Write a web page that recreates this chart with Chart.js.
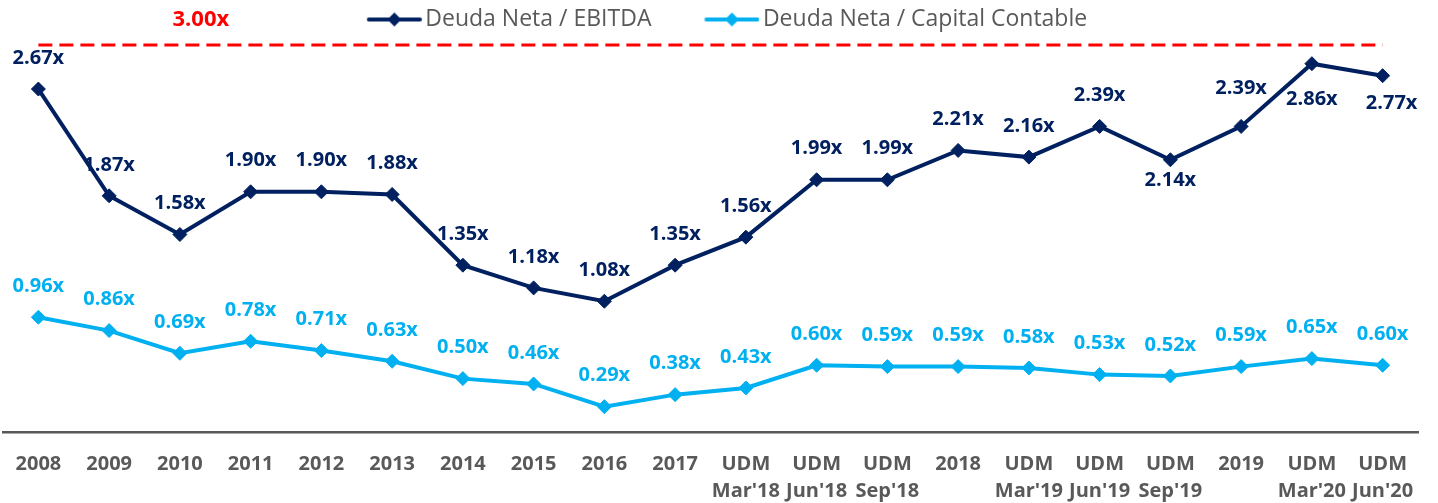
<!DOCTYPE html>
<html>
<head>
<meta charset="utf-8">
<script src="https://cdn.jsdelivr.net/npm/chart.js@4"></script>
<style>
  html, body { margin: 0; padding: 0; background: #fff; }
  #wrap { width: 1438px; height: 503px; }
</style>
</head>
<body>
<div id="wrap"><canvas id="deudaChart"></canvas></div>
<script>
// categories and values
const periods = ["2008", "2009", "2010", "2011", "2012", "2013", "2014", "2015", "2016", "2017",
    ["UDM", "Mar'18"], ["UDM", "Jun'18"], ["UDM", "Sep'18"], "2018",
    ["UDM", "Mar'19"], ["UDM", "Jun'19"], ["UDM", "Sep'19"], "2019",
    ["UDM", "Mar'20"], ["UDM", "Jun'20"]];
const deudaEbitda = [2.67, 1.87, 1.58, 1.90, 1.90, 1.88, 1.35, 1.18, 1.08, 1.35, 1.56, 1.99, 1.99, 2.21, 2.16, 2.39, 2.14, 2.39, 2.86, 2.77];
const deudaCapital = [0.96, 0.86, 0.69, 0.78, 0.71, 0.63, 0.50, 0.46, 0.29, 0.38, 0.43, 0.60, 0.59, 0.59, 0.58, 0.53, 0.52, 0.59, 0.65, 0.60];
const covenantLimit = periods.map(() => 3.00);

const NAVY = '#002060';
const CYAN = '#00B0F0';
const RED = '#FF0000';
const GREY = '#595959';

const BOX_W = 92; // legend box width

// line + diamond marker for the legend (drawn a bit wider than the box)
function legendMarker(color) {
    const c = document.createElement('canvas');
    c.width = BOX_W + 16; c.height = 16;
    const ctx = c.getContext('2d');
    const x1 = c.width - 53, x2 = c.width - 2, mid = (x1 + x2) / 2;
    ctx.strokeStyle = color;
    ctx.lineWidth = 4;
    ctx.lineCap = 'round';
    ctx.beginPath();
    ctx.moveTo(x1, 8);
    ctx.lineTo(x2, 8);
    ctx.stroke();
    ctx.fillStyle = color;
    ctx.beginPath();
    ctx.moveTo(mid, 1); ctx.lineTo(mid + 7, 8); ctx.lineTo(mid, 15); ctx.lineTo(mid - 7, 8);
    ctx.closePath();
    ctx.fill();
    return c;
}
const markers = [legendMarker(NAVY), legendMarker(CYAN)];

// where each value label sits relative to its point
function labelShift(ds, i) {
    if (ds === 0) {
        if (i === 16) return [0, 21];
        if (i === 17) return [0, -38];
        if (i === 18) return [0, 36];
        if (i === 19) return [9, 28];
        return [0, -31];
    }
    if (ds === 1) return [0, -31];
    return [21, -25];
}

const valueLabels = {
    id: 'valueLabels',
    afterDatasetsDraw(chart) {
        const ctx = chart.ctx;
        ctx.save();
        ctx.textAlign = 'center';
        ctx.textBaseline = 'middle';
        chart.data.datasets.forEach((ds, d) => {
            const meta = chart.getDatasetMeta(d);
            meta.data.forEach((pt, i) => {
                if (d === 2 && i !== 2) return;
                const s = labelShift(d, i);
                ctx.font = d === 2 ? 'bold 22px "Open Sans"' : 'bold 20px "Open Sans"';
                ctx.fillStyle = d === 2 ? RED : (d === 0 ? NAVY : CYAN);
                ctx.fillText(ds.data[i].toFixed(2) + 'x', pt.x + s[0], pt.y + s[1]);
            });
        });
        ctx.restore();
    }
};

// fixed legend height, legend nudged a little to the left
const legendTweak = {
    id: 'legendTweak',
    beforeInit(chart) {
        const lg = chart.legend;
        const fit = lg.fit;
        lg.fit = function () {
            fit.call(this);
            this.height = 40;
        };
        const draw = lg.draw;
        lg.draw = function () {
            this.ctx.save();
            this.ctx.translate(-6, 0);
            draw.call(this);
            this.ctx.restore();
        };
    },
    // drop the x labels a few px lower without widening the side padding
    beforeLayout(chart) {
        const x = chart.scales.x;
        if (x && !x._tweaked) {
            x._tweaked = true;
            const drawLabels = x.drawLabels;
            x.drawLabels = function (area) {
                this.ctx.save();
                this.ctx.translate(0, 7);
                drawLabels.call(this, area);
                this.ctx.restore();
            };
        }
    }
};

const chart = new Chart(document.getElementById('deudaChart'), {
    type: 'line',
    data: {
        labels: periods,
        datasets: [{
            label: 'Deuda Neta / EBITDA',
            data: deudaEbitda,
            borderColor: NAVY,
            backgroundColor: NAVY,
            borderWidth: 4,
            pointStyle: 'rectRot',
            pointRadius: 7,
            pointBorderWidth: 1,
            tension: 0
        }, {
            label: 'Deuda Neta / Capital Contable',
            data: deudaCapital,
            borderColor: CYAN,
            backgroundColor: CYAN,
            borderWidth: 4,
            pointStyle: 'rectRot',
            pointRadius: 7,
            pointBorderWidth: 1,
            tension: 0
        }, {
            label: 'Límite',
            data: covenantLimit,
            borderColor: RED,
            borderWidth: 3,
            borderDash: [14, 7],
            pointRadius: 0
        }]
    },
    options: {
        responsive: true,
        maintainAspectRatio: false,
        animation: false,
        layout: { autoPadding: false, padding: { left: 3, right: 20, top: 0, bottom: 0 } },
        plugins: {
            tooltip: { enabled: false },
            legend: {
                position: 'top',
                labels: {
                    usePointStyle: true,
                    pointStyleWidth: BOX_W,
                    padding: 8,
                    color: GREY,
                    font: { family: 'Open Sans', size: 23 },
                    filter: item => item.datasetIndex !== 2,
                    generateLabels(c) {
                        const items = Chart.defaults.plugins.legend.labels.generateLabels(c);
                        items.forEach(it => { if (markers[it.datasetIndex]) it.pointStyle = markers[it.datasetIndex]; });
                        return items;
                    }
                }
            }
        },
        scales: {
            x: {
                offset: true,
                grid: { display: false, drawTicks: false },
                border: { display: true, color: GREY, width: 2.5 },
                afterFit(scale) { scale.height = 71; },
                ticks: {
                    color: GREY,
                    padding: 12,
                    maxRotation: 0,
                    minRotation: 0,
                    autoSkip: false,
                    font: { family: 'Open Sans', size: 20, weight: 'bold', lineHeight: 1.35 }
                }
            },
            y: {
                display: false,
                min: 0.1,
                max: 3.0375
            }
        }
    },
    plugins: [valueLabels, legendTweak]
});
</script>
</body>
</html>
